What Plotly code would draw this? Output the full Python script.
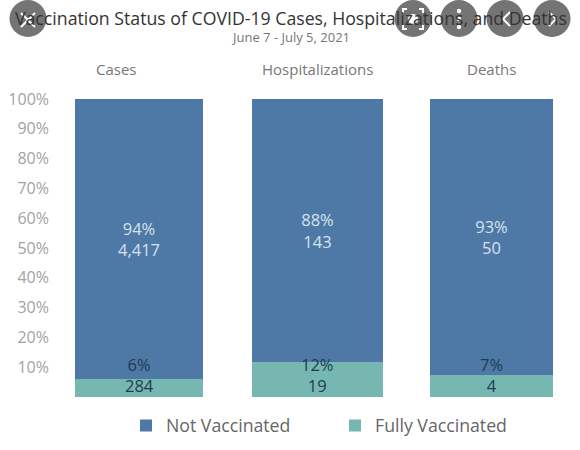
import plotly.graph_objects as go

# values
panels = ["Cases", "Hospitalizations", "Deaths"]
not_vaccinated = [4417, 143, 50]
fully_vaccinated = [284, 19, 4]
not_vaccinated_pct = ["94%", "88%", "93%"]
fully_vaccinated_pct = ["6%", "12%", "7%"]
y_ticks = [10, 20, 30, 40, 50, 60, 70, 80, 90, 100]

W, H = 580, 450
FONT = "Open Sans, sans-serif"
BLUE = "#4e79a7"
TEAL = "#76b7b2"
DARK = "#1f3b52"
GREY = "#a3a3a3"

# bar edges in pixels, one subplot per panel
bar_edges = [(75, 203), (252, 383), (430, 553)]
axis_names = ["x", "x2", "x3"]
# the Cases header is not centred over its bar in the reference
header_shift = [-23, 0, 0]


def px(x):
    return x / W


def py(y):
    return (H - y) / H


fig = go.Figure()
annotations = []

for i, panel in enumerate(panels):
    fig.add_trace(go.Bar(
        x=[panel], y=[fully_vaccinated[i]], name="Fully Vaccinated",
        marker_color=TEAL, marker_line_width=0,
        xaxis=axis_names[i], yaxis="y", legendgroup="fully", showlegend=i == 0,
    ))
    fig.add_trace(go.Bar(
        x=[panel], y=[not_vaccinated[i]], name="Not Vaccinated",
        marker_color=BLUE, marker_line_width=0,
        text=[f"{not_vaccinated_pct[i]}<br>{not_vaccinated[i]:,}"],
        textposition="inside", insidetextanchor="middle", textangle=0,
        insidetextfont=dict(family=FONT, size=16.5, color="#d6e1ec"),
        xaxis=axis_names[i], yaxis="y", legendgroup="not", showlegend=i == 0,
    ))
    # labels for the small segment sit at the same height in every panel
    annotations.append(dict(
        x=panel, y=7.4, xref=axis_names[i], yref="y", showarrow=False,
        text=f"{fully_vaccinated_pct[i]}<br>{fully_vaccinated[i]}",
        font=dict(family=FONT, size=16.5, color=DARK),
    ))
    annotations.append(dict(
        x=panel, y=py(69), xref=axis_names[i], yref="paper", showarrow=False,
        yanchor="middle", xshift=header_shift[i],
        text=panel, font=dict(family=FONT, size=15, color="#777777"),
    ))

annotations.append(dict(
    x=px(291), y=py(18), xref="paper", yref="paper", showarrow=False,
    xanchor="center", yanchor="middle",
    text="Vaccination Status of COVID-19 Cases, Hospitalizations, and Deaths",
    font=dict(family=FONT, size=17.7, color="#333333"),
))
annotations.append(dict(
    x=px(290), y=py(37), xref="paper", yref="paper", showarrow=False,
    xanchor="center", yanchor="middle",
    text="June 7 - July 5, 2021", font=dict(family=FONT, size=13, color="#777777"),
))

# image viewer buttons sitting over the top of the screenshot
shapes = []
for bx in [28, 413, 459, 505, 552]:
    shapes.append(dict(
        type="circle", xref="paper", yref="paper", layer="above",
        x0=px(bx - 18.5), x1=px(bx + 18.5), y0=py(37), y1=py(0),
        fillcolor="rgba(70,70,70,0.75)", line_width=0,
    ))


def glyph_line(points, width=2):
    path = "M " + " L ".join(f"{px(x)} {py(y)}" for x, y in points)
    shapes.append(dict(
        type="path", path=path, xref="paper", yref="paper", layer="above",
        line=dict(color="white", width=width),
    ))


def glyph_dot(cx, cy, r):
    shapes.append(dict(
        type="circle", xref="paper", yref="paper", layer="above",
        x0=px(cx - r), x1=px(cx + r), y0=py(cy + r), y1=py(cy - r),
        fillcolor="white", line_width=0,
    ))


glyph_line([(21, 13), (35, 27)])
glyph_line([(35, 13), (21, 27)])
glyph_dot(413, 19, 5)
for sx in (-1, 1):
    for sy in (-1, 1):
        glyph_line([(413 + sx * 6, 19 + sy * 10), (413 + sx * 10, 19 + sy * 10), (413 + sx * 10, 19 + sy * 6)])
glyph_dot(459, 11, 2.2)
glyph_dot(459, 19, 2.2)
glyph_dot(459, 27, 2.2)
glyph_line([(510, 12), (503, 19), (510, 26)])
glyph_line([(549, 12), (556, 19), (549, 26)])

layout_axes = {}
for i, (left, right) in enumerate(bar_edges):
    key = "xaxis" if i == 0 else f"xaxis{i + 1}"
    layout_axes[key] = dict(
        domain=[px(left), px(right)], anchor="y", showticklabels=False,
        showgrid=False, zeroline=False, showline=False, ticks="",
    )

fig.update_layout(
    width=W, height=H,
    margin=dict(l=0, r=0, t=0, b=0, autoexpand=False),
    paper_bgcolor="white", plot_bgcolor="white",
    barmode="stack", barnorm="percent", bargap=0,
    font=dict(family=FONT),
    yaxis=dict(
        domain=[py(397), py(99)], range=[0, 100], anchor="x",
        tickmode="array", tickvals=y_ticks, ticktext=[f"{t}%" for t in y_ticks],
        tickfont=dict(family=FONT, size=16, color=GREY),
        ticks="", ticklabelstandoff=25,
        showgrid=False, zeroline=False, showline=False,
    ),
    legend=dict(
        orientation="h", traceorder="reversed", entrywidth=164, entrywidthmode="pixels",
        x=px(126), xanchor="left", y=py(426), yanchor="middle",
        font=dict(family=FONT, size=17.7, color="#666666"), bgcolor="rgba(0,0,0,0)",
    ),
    annotations=annotations,
    shapes=shapes,
    **layout_axes,
)

# the page's default body margin would shift everything by 8px
fig.write_html("out.html", config=dict(displayModeBar=False),
               post_script="document.body.style.margin='0';")
